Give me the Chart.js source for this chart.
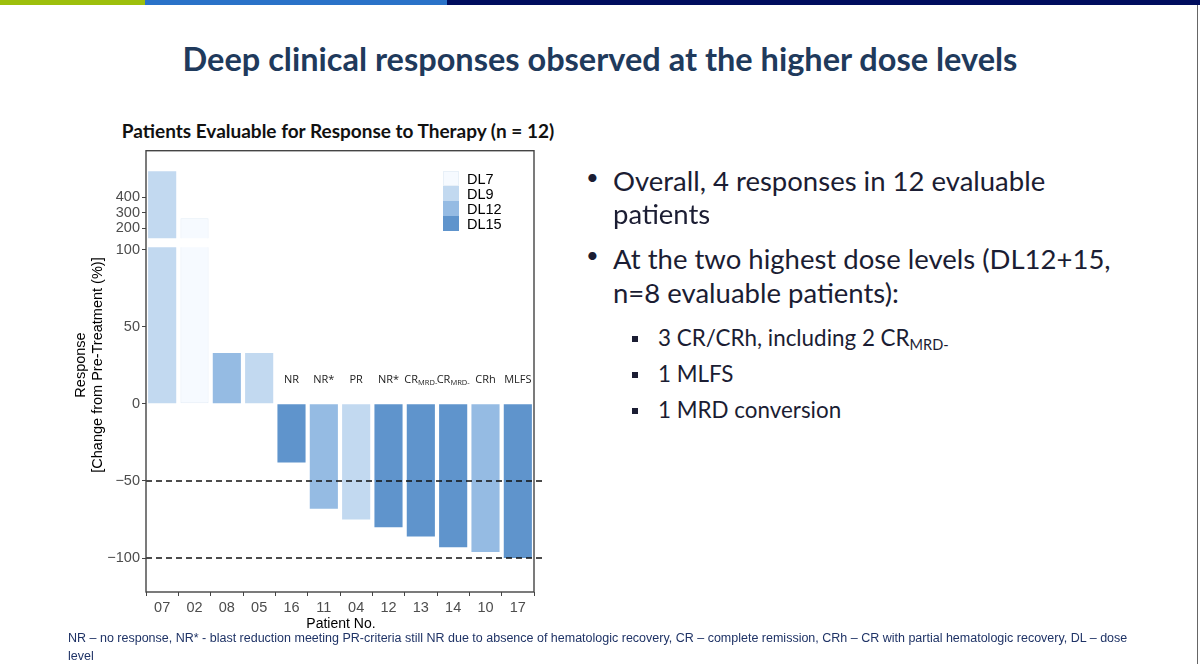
<!DOCTYPE html>
<html lang="en">
<head>
    <meta charset="UTF-8">
    <title>Deep clinical responses observed at the higher dose levels</title>
    <script src="https://cdn.jsdelivr.net/npm/chart.js"></script>
    <style>
        html, body { margin: 0; padding: 0; background: #fff; }
        body { width: 1200px; height: 664px; position: relative; overflow: hidden; font-family: Lato, "Open Sans", sans-serif; }
        .abs { position: absolute; white-space: nowrap; }
        .topbar { position: absolute; top: 0; height: 5px; }
        #title { left: 0; width: 1200px; top: 39px; text-align: center; font-weight: bold; font-size: 32.5px; line-height: 40px; color: #1f3a5c; }
        #chartTitle { left: 40px; width: 596px; top: 119px; text-align: center; font-weight: bold; font-size: 19px; line-height: 24px; color: #111; }
        #chartBox { position: absolute; left: 0; top: 140px; width: 560px; height: 500px; }
        #yTitle { left: -58px; top: 345px; width: 300px; height: 40px; text-align: center; transform: rotate(-90deg);
                  font-family: "Liberation Sans", Arial, sans-serif; font-size: 14.5px; line-height: 17px; color: #000; }
        #xTitle { left: 241px; width: 200px; top: 615px; text-align: center; font-family: "Liberation Sans", Arial, sans-serif; font-size: 14px; color: #000; }
        #legend { left: 443px; top: 171px; font-family: "Liberation Sans", Arial, sans-serif; font-size: 14.5px; color: #000; }
        #legend .row { height: 15px; line-height: 17px; }
        #legend .sw { display: inline-block; width: 16px; height: 15px; vertical-align: top; margin-right: 8px; box-sizing: border-box; }
        .b1 { font-size: 27.5px; line-height: 34px; color: #1b1d33; }
        .b2 { font-size: 22.4px; line-height: 28px; color: #1b1d33; }
        .dot { position: absolute; font-size: 22px; color: #1b1d33; }
        .sq { position: absolute; width: 6px; height: 6px; background: #1b1d33; }
        sub { font-size: 65%; vertical-align: -4px; line-height: 0; }
        #footer { left: 68px; top: 629px; font-family: "Liberation Sans", Arial, sans-serif; font-size: 12.5px; line-height: 18px; color: #1f3366; }
    </style>
</head>
<body>
    <div class="topbar" style="left:0;width:145px;background:#9dbf0c;"></div>
    <div class="topbar" style="left:145px;width:302px;background:#2a72c8;"></div>
    <div class="topbar" style="left:447px;width:753px;background:#000d5e;"></div>
    <div class="abs" style="left:1197px;top:5px;width:1px;height:659px;background:#666;"></div>

    <div id="title" class="abs">Deep clinical responses observed at the higher dose levels</div>
    <div id="chartTitle" class="abs">Patients Evaluable for Response to Therapy (n = 12)</div>

    <div id="chartBox"><canvas id="responseChart"></canvas></div>
    <div id="yTitle" class="abs">Response<br>[Change from Pre-Treatment (%)]</div>
    <div id="xTitle" class="abs">Patient No.</div>
    <div id="legend" class="abs"></div>

    <div class="dot" style="left:586px;top:163px;">•</div>
    <div class="abs b1" style="left:613px;top:164px;">Overall, 4 responses in 12 evaluable</div>
    <div class="abs b1" style="left:613px;top:197px;">patients</div>
    <div class="dot" style="left:586px;top:241px;">•</div>
    <div class="abs b1" style="left:613px;top:242px;">At the two highest dose levels (DL12+15,</div>
    <div class="abs b1" style="left:613px;top:276px;">n=8 evaluable patients):</div>
    <div class="sq" style="left:632px;top:336px;"></div>
    <div class="abs b2" style="left:658px;top:324px;">3 CR/CRh, including 2 CR<sub>MRD-</sub></div>
    <div class="sq" style="left:632px;top:372px;"></div>
    <div class="abs b2" style="left:658px;top:360px;">1 MLFS</div>
    <div class="sq" style="left:632px;top:408px;"></div>
    <div class="abs b2" style="left:658px;top:396px;">1 MRD conversion</div>

    <div id="footer" class="abs">NR – no response, NR* - blast reduction meeting PR-criteria still NR due to absence of hematologic recovery, CR – complete remission, CRh – CR with partial hematologic recovery, DL – dose<br>level</div>

    <script>
        // patients in plotted order (waterfall)
        const patients = ['07', '02', '08', '05', '16', '11', '04', '12', '13', '14', '10', '17'];
        // change in blasts from pre-treatment (%)
        const responses = [570, 265, 33, 33, -38, -68, -75, -80, -86, -93, -96, -100];
        // dose level of each patient
        const patientDose = ['DL9', 'DL7', 'DL12', 'DL9', 'DL15', 'DL12', 'DL9', 'DL15', 'DL15', 'DL15', 'DL12', 'DL15'];
        // response category written above the bars
        const responseLabels = ['', '', '', '', 'NR', 'NR*', 'PR', 'NR*', 'CR', 'CR', 'CRh', 'MLFS'];
        const responseSubs = ['', '', '', '', '', '', '', '', 'MRD-', 'MRD-', '', ''];

        const doseLevels = ['DL7', 'DL9', 'DL12', 'DL15'];
        const doseColors = ['#f6faff', '#c2d9f0', '#95bbe3', '#5f94cc'];

        // broken y axis: lower and upper panel ticks
        const lowerTicks = [-100, -50, 0, 50, 100];
        const upperTicks = [200, 300, 400];
        const refLines = [-50, -100];

        // legend
        const legendEl = document.getElementById('legend');
        doseLevels.forEach((dl, i) => {
            const row = document.createElement('div');
            row.className = 'row';
            const sw = document.createElement('span');
            sw.className = 'sw';
            sw.style.background = doseColors[i];
            if (i === 0) sw.style.border = '1px solid #e8f0f8';
            row.appendChild(sw);
            row.appendChild(document.createTextNode(dl));
            legendEl.appendChild(row);
        });

        // one dataset per dose level for each panel of the broken axis
        function makeDatasets(axisId) {
            return doseLevels.map((dl, i) => ({
                label: dl,
                yAxisID: axisId,
                data: responses.map((v, j) => patientDose[j] === dl ? v : null),
                backgroundColor: doseColors[i],
                borderColor: i === 0 ? '#e3edf7' : doseColors[i],
                borderWidth: i === 0 ? 1 : 0,
                borderSkipped: false,
                grouped: false,
                barPercentage: 0.87,
                categoryPercentage: 1
            }));
        }

        const tickGrid = { display: true, drawOnChartArea: false, drawTicks: true, tickLength: 4, color: '#444', lineWidth: 1 };
        const tickFont = { family: 'Liberation Sans', size: 14.5 };
        const minusLabel = v => String(v).replace('-', '\u2212');

        const frame = {
            id: 'frame',
            afterDatasetsDraw(chart) {
                const { ctx, chartArea: a } = chart;
                const y = chart.scales.y;
                ctx.save();
                // dashed reference lines
                ctx.setLineDash([6, 4]);
                ctx.strokeStyle = '#111';
                ctx.lineWidth = 1.4;
                refLines.forEach(v => {
                    const py = y.getPixelForValue(v);
                    ctx.beginPath();
                    ctx.moveTo(a.left, py);
                    ctx.lineTo(a.right + 8, py);
                    ctx.stroke();
                });
                ctx.setLineDash([]);
                // panel border
                ctx.strokeStyle = '#444';
                ctx.lineWidth = 1.4;
                ctx.strokeRect(a.left, a.top, a.right - a.left, a.bottom - a.top);

                // response labels above the bars
                const x = chart.scales.x;
                const ly = y.getPixelForValue(0) - 24;
                ctx.fillStyle = '#222';
                ctx.textBaseline = 'middle';
                responseLabels.forEach((lab, i) => {
                    if (!lab) return;
                    const cx = x.getPixelForValue(i);
                    ctx.font = '11px "Open Sans"';
                    const w1 = ctx.measureText(lab).width;
                    ctx.font = '7.5px "Open Sans"';
                    const w2 = responseSubs[i] ? ctx.measureText(responseSubs[i]).width : 0;
                    const sx = cx - (w1 + w2) / 2;
                    ctx.textAlign = 'left';
                    ctx.font = '11px "Open Sans"';
                    ctx.fillText(lab, sx, ly);
                    if (w2) {
                        ctx.font = '7.5px "Open Sans"';
                        ctx.fillText(responseSubs[i], sx + w1, ly + 3);
                    }
                });
                ctx.restore();
            }
        };

        new Chart(document.getElementById('responseChart'), {
            type: 'bar',
            data: {
                labels: patients,
                datasets: [...makeDatasets('y'), ...makeDatasets('yTop')]
            },
            options: {
                responsive: true,
                maintainAspectRatio: false,
                animation: false,
                layout: { padding: { top: 9, right: 26, bottom: 0, left: 0 } },
                plugins: { legend: { display: false }, tooltip: { enabled: false } },
                scales: {
                    x: {
                        grid: tickGrid,
                        border: { display: false },
                        ticks: { font: tickFont, color: '#4d4d4d', padding: 3 },
                        afterFit: s => { s.height = 48; }
                    },
                    // stacked left scales are laid out bottom-up in definition order
                    y: {
                        position: 'left',
                        stack: 'broken',
                        stackWeight: 346,
                        min: -122,
                        max: 101.5,
                        grid: tickGrid,
                        border: { display: false },
                        ticks: { font: tickFont, color: '#4d4d4d', padding: 2, callback: minusLabel },
                        afterBuildTicks: s => { s.ticks = lowerTicks.map(v => ({ value: v })); },
                        afterFit: s => { s.width = 146; }
                    },
                    yGap: {
                        position: 'left',
                        stack: 'broken',
                        stackWeight: 9,
                        min: 0,
                        max: 1,
                        grid: { display: false },
                        border: { display: false },
                        ticks: { display: false },
                        afterFit: s => { s.width = 146; }
                    },
                    yTop: {
                        position: 'left',
                        stack: 'broken',
                        stackWeight: 88,
                        min: 135,
                        max: 703,
                        grid: tickGrid,
                        border: { display: false },
                        ticks: { font: tickFont, color: '#4d4d4d', padding: 2 },
                        afterBuildTicks: s => { s.ticks = upperTicks.map(v => ({ value: v })); },
                        afterFit: s => { s.width = 146; }
                    }
                }
            },
            plugins: [frame]
        });
    </script>
</body>
</html>
